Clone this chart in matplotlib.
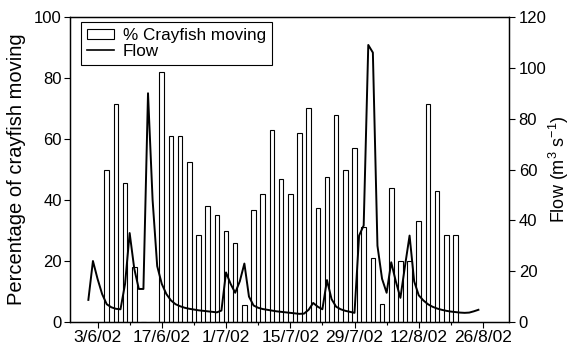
import matplotlib
matplotlib.use("Agg")
import matplotlib.pyplot as plt
from matplotlib.patches import Patch
from matplotlib.lines import Line2D
import pandas as pd

plt.rcParams['font.family'] = ['Liberation Sans', 'DejaVu Sans']
plt.rcParams['mathtext.fontset'] = 'custom'
plt.rcParams['mathtext.rm'] = 'Liberation Sans'

# Survey dates (every second day) and percentage of crayfish moving
survey_dates = pd.date_range('2002-06-05', periods=39, freq='2D')
pct_moving = [50, 71.5, 45.5, 18, 0, 0, 82, 61, 61, 52.5,
              28.5, 38, 35, 30, 26, 5.5, 36.7, 42, 63, 47,
              42, 62, 70, 37.5, 47.5, 68, 50, 57, 31, 21,
              6, 44, 20, 20, 33, 71.5, 43, 28.5, 28.5]

# Daily mean flow (m3 s-1)
flow_dates = pd.date_range('2002-06-01', periods=86, freq='D')
flow = [8.7, 24, 17, 11, 7, 5.8, 5.2, 5, 15, 35,
        21, 13, 13, 90, 48, 22, 15, 11, 8.5, 7,
        6.2, 5.6, 5.2, 4.9, 4.6, 4.4, 4.2, 4, 3.8, 4.5,
        19.5, 15, 11.5, 16, 23, 10, 6.5, 5.6, 5.1, 4.8,
        4.5, 4.2, 4, 3.8, 3.6, 3.4, 3.2, 3.3, 4.8, 7.5,
        6, 5, 16.5, 9, 6, 5, 4.4, 4, 3.6, 34,
        38, 109, 106, 30, 17, 11.5, 23.5, 16, 9.5, 22,
        34, 16, 10.5, 8.5, 7, 6, 5.3, 4.8, 4.4, 4.1,
        3.9, 3.7, 3.6, 3.7, 4.2, 4.8]

tick_dates = ['2002-06-03', '2002-06-17', '2002-07-01', '2002-07-15',
              '2002-07-29', '2002-08-12', '2002-08-26']
tick_labels = ['3/6/02', '17/6/02', '1/7/02', '15/7/02', '29/7/02',
               '12/8/02', '26/8/02']
minor_dates = ['2002-06-10', '2002-06-24', '2002-07-08', '2002-07-22',
               '2002-08-05', '2002-08-19']

fig = plt.figure(figsize=(5.73, 3.48), dpi=100)
ax = fig.add_axes([70 / 573, 1 - 322 / 348, 439 / 573, 305 / 348])

ax.bar(survey_dates, pct_moving, width=1.0, color='white',
       edgecolor='black', linewidth=0.8, zorder=2)
ax.set_ylim(0, 100)
ax.set_yticks([0, 20, 40, 60, 80, 100])
ax.set_xlim(pd.Timestamp('2002-05-28'), pd.Timestamp('2002-08-31 16:00'))
ax.set_xticks(pd.to_datetime(tick_dates))
ax.set_xticklabels(tick_labels)
ax.set_xticks(pd.to_datetime(minor_dates), minor=True)
ax.tick_params(axis='x', which='major', length=4, width=0.8,
               labelsize=12.5, pad=1.5, direction='out')
ax.tick_params(axis='x', which='minor', length=2.5, width=0.8)
ax.tick_params(axis='y', length=4, width=0.8, labelsize=12, pad=2)
ax.set_ylabel('Percentage of crayfish moving', fontsize=14.5, labelpad=6)

ax2 = ax.twinx()
ax2.plot(flow_dates, flow, color='black', linewidth=1.4)
ax2.set_ylim(0, 120)
ax2.set_yticks([0, 20, 40, 60, 80, 100, 120])
ax2.tick_params(axis='y', length=4, width=0.8, labelsize=12, pad=3)
ax2.set_ylabel('Flow (m$^{3}$ s$^{-1}$)', fontsize=13, labelpad=0)
ax2.set_xlim(ax.get_xlim())

for a in (ax, ax2):
    for sp in a.spines.values():
        sp.set_linewidth(0.9)

handles = [Patch(facecolor='white', edgecolor='black', linewidth=0.8),
           Line2D([], [], color='black', linewidth=1.2)]
leg = ax2.legend(handles, ['% Crayfish moving', 'Flow'], loc='upper left',
                 bbox_to_anchor=(0.025, 0.984), borderaxespad=0,
                 fontsize=12.3, frameon=True, fancybox=False,
                 edgecolor='black', framealpha=1, labelspacing=0.05,
                 handlelength=1.6, handleheight=0.5, handletextpad=0.5,
                 borderpad=0.35)
leg.get_frame().set_linewidth(0.8)

fig.savefig('out.png', dpi=100)
